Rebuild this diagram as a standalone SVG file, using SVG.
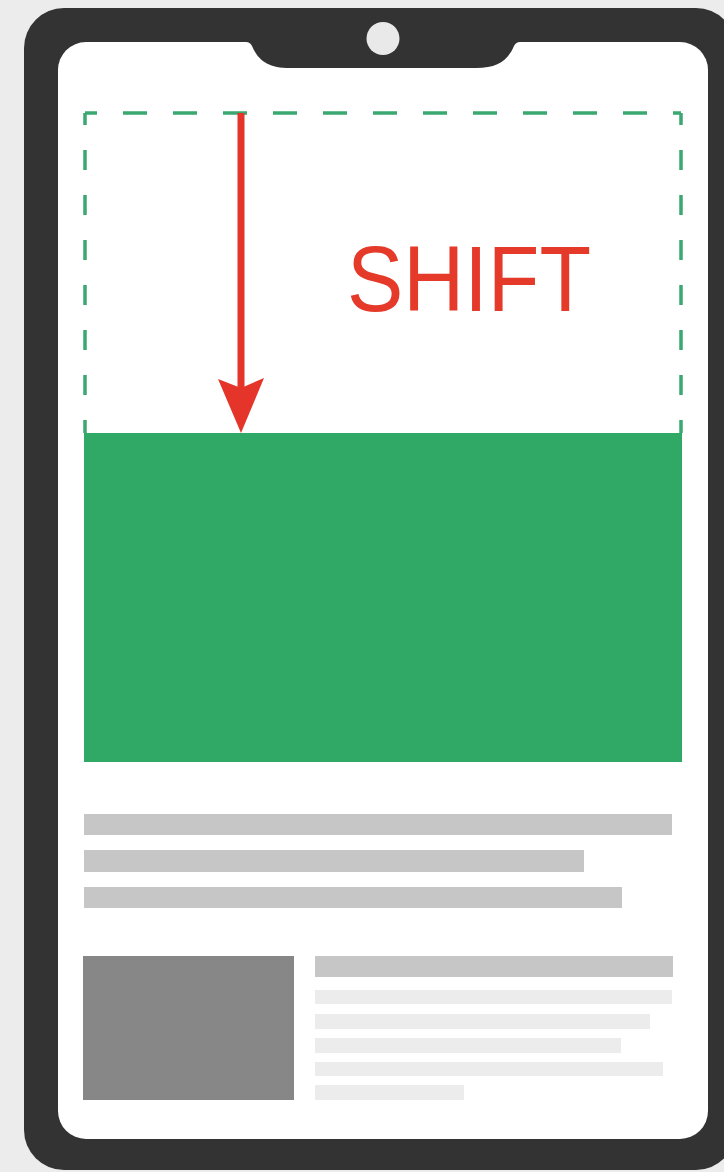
<svg xmlns="http://www.w3.org/2000/svg" width="724" height="1172" viewBox="0 0 724 1172">
  <style>
    .bar { fill: #c6c6c6; }
    .lite { fill: #ececec; }
    .dash { stroke: #3aa870; stroke-width: 3.5; fill: none; }
  </style>
  <rect id="background" x="0" y="0" width="724" height="1172" fill="#ececec"/>
  <g id="phone">
    <rect x="24" y="8" width="712" height="1162" rx="40" fill="#333333"/>
    <rect x="58" y="42" width="650" height="1097" rx="28" fill="#ffffff"/>
    <path d="M 246 42 Q 250 42 252 46 C 258 60, 268 68, 290 68 L 476 68 C 498 68, 508 60, 514 46 Q 516 42 520 42 Z" fill="#333333"/>
    <circle cx="383" cy="38.5" r="16.5" fill="#e9e9e9"/>
  </g>
  <g id="shift-region">
    <line class="dash" x1="85" y1="113" x2="681" y2="113" stroke-dasharray="24 26" stroke-dashoffset="12"/>
    <line class="dash" x1="85" y1="113" x2="85" y2="433" stroke-dasharray="20 25" stroke-dashoffset="8"/>
    <line class="dash" x1="681" y1="113" x2="681" y2="433" stroke-dasharray="20 25" stroke-dashoffset="8"/>
  </g>
  <g id="green-block">
    <rect x="84" y="433" width="598" height="329" fill="#31a966"/>
  </g>
  <g id="shift-label">
    <text x="347" y="311" font-family="Liberation Sans, Arial, sans-serif" font-size="92" fill="#e53a2a" textLength="244" lengthAdjust="spacingAndGlyphs">SHIFT</text>
  </g>
  <g id="text-lines">
    <rect class="bar" x="84" y="814" width="588" height="21"/>
    <rect class="bar" x="84" y="850" width="500" height="22"/>
    <rect class="bar" x="84" y="887" width="538" height="21"/>
  </g>
  <g id="card">
    <rect x="83" y="956" width="211" height="144" fill="#878787"/>
    <rect class="bar" x="315" y="956" width="358" height="21"/>
    <rect class="lite" x="315" y="990" width="357" height="14"/>
    <rect class="lite" x="315" y="1014" width="335" height="15"/>
    <rect class="lite" x="315" y="1038" width="306" height="15"/>
    <rect class="lite" x="315" y="1062" width="348" height="14"/>
    <rect class="lite" x="315" y="1085" width="149" height="15"/>
  </g>
  <g id="connectors">
    <line x1="241" y1="113" x2="241" y2="392" stroke="#e5352a" stroke-width="7"/>
    <polygon points="218,379 241,388 264,378 241,433" fill="#e5352a"/>
  </g>
</svg>
